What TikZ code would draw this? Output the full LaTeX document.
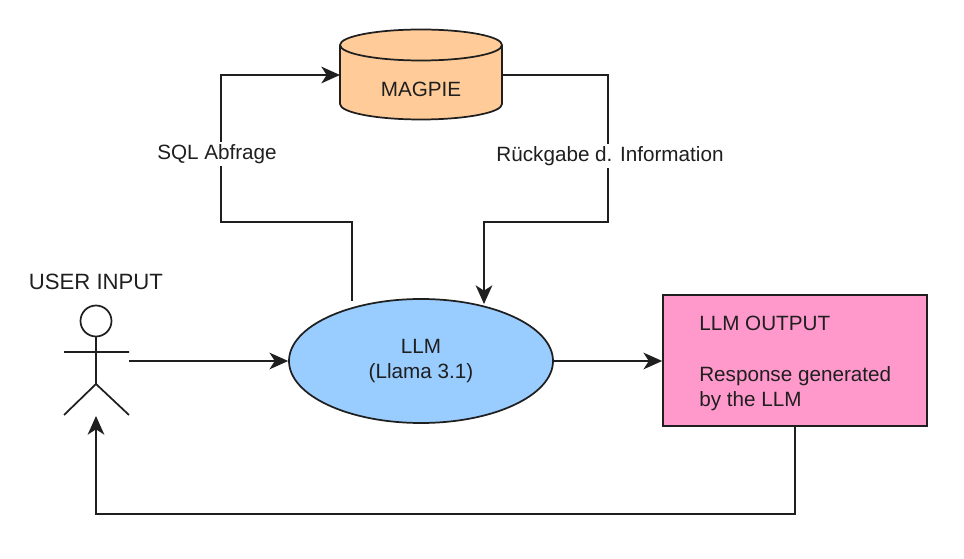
\documentclass[tikz,border=0pt]{standalone}
\usepackage{fontspec}
\setmainfont{Liberation Sans}
\usetikzlibrary{arrows.meta,shapes.geometric}
\tikzset{
 px/.style={x=0.75pt,y=-0.75pt},
 line/.style={draw=black!88,line width=1.3pt},
 conn/.style={line,-{Stealth[length=14pt,width=12.5pt,inset=4pt]}},
 lbl/.style={font=\fontsize{15.5pt}{18.8pt}\selectfont,text=black!88,inner sep=0pt,align=center},
 lab/.style={lbl,fill=white,inner sep=2pt},
}
\definecolor{cyl}{HTML}{FFCC99}
\definecolor{ell}{HTML}{99CCFF}
\definecolor{pinkb}{HTML}{FF99CC}
\begin{document}
\begin{tikzpicture}[px]
\useasboundingbox (0,0) rectangle (964,559);
% cylinder
\path[line,fill=cyl] (340,45) -- (340,104) arc[x radius=81,y radius=15.5,start angle=180,end angle=0] -- (502,45) arc[x radius=81,y radius=15.5,start angle=0,end angle=-180] -- cycle;
\draw[line] (340,45) arc[x radius=81,y radius=15.5,start angle=180,end angle=0];
\node[lbl] (magpie) at (421,89) {MAGPIE};
\coordinate (magL) at (340,75);
\coordinate (magR) at (502,75);
% ellipse
\node[line,fill=ell,shape=ellipse,minimum width=198pt,minimum height=93pt,inner sep=0pt,align=center,font=\fontsize{15.5pt}{18.8pt}\selectfont,text=black!88] (llm) at (421,361) {LLM\\(Llama 3.1)};
% out box
\node[line,fill=pinkb,minimum width=198pt,minimum height=98pt,inner sep=0pt] (out) at (795,360.5) {};
\node[lbl,anchor=north west,align=left] (outt1) at (699,316) {LLM OUTPUT};
\node[lbl,anchor=north west,align=left] (outt2) at (699,366) {Response generated\\by the LLM};
% actor
\draw[line] (96,321) circle[radius=15.5];
\draw[line] (96,336.5) -- (96,384) (64,352) -- (129,352) (64,415) -- (96,384) -- (129,415);
\node[lbl,font=\fontsize{16.6pt}{19pt}\selectfont] (user) at (96,282) {USER INPUT};
\coordinate (actR) at (129,361);
\coordinate (actB) at (96,416);
% connectors
\draw[conn] (actR) -- (llm.west);
\draw[conn] (llm.east) -- (llm.east -| out.west);
\draw[conn] (out.south) -- (795,514) -- (96,514) -- (actB);
\draw[conn] (352,301) -- (352,222) -- (221,222) -- (221,75) -- (magL);
\draw[conn] (magR) -- (608,75) -- (608,222) -- (484,222) -- (484,304);
\node[lab] (l1) at (217,154) {SQL Abfrage};
\node[lab] (l2) at (610,156) {Rückgabe d. Information};
\end{tikzpicture}
\end{document}
